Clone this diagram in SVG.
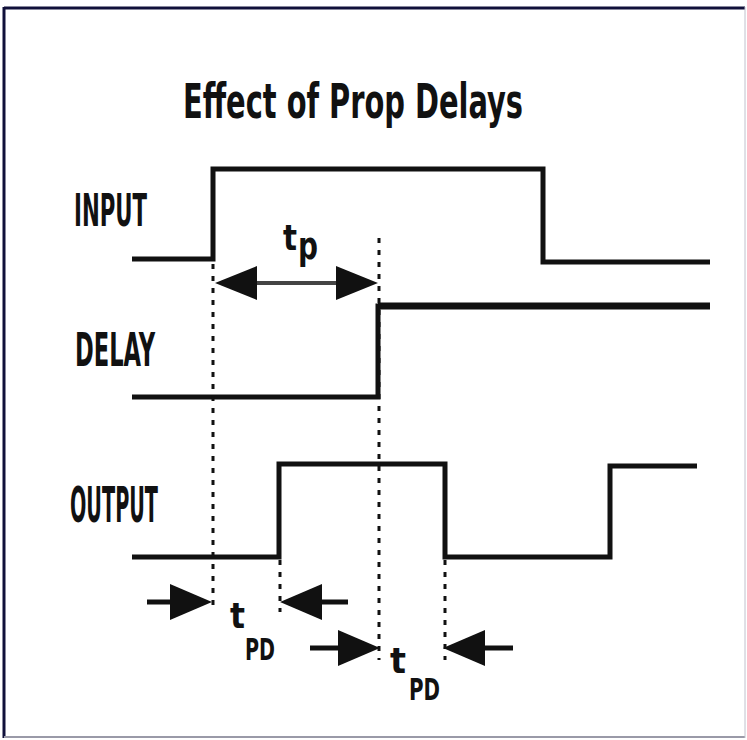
<svg xmlns="http://www.w3.org/2000/svg" width="747" height="740" viewBox="0 0 747 740">
<style>
.lbl{font-family:"DejaVu Sans Condensed","DejaVu Sans",sans-serif;font-weight:bold;fill:#111}
.wave{fill:none;stroke:#111;stroke-width:5;stroke-linejoin:miter}
.dash{stroke:#111;stroke-width:3;stroke-dasharray:5 7;fill:none}
.head{fill:#111}
.shaft{stroke:#111;stroke-width:5}
</style>
<rect x="0" y="0" width="747" height="740" fill="#fff"/>
<line x1="4" y1="8" x2="745" y2="8" stroke="#10103a" stroke-width="3"/>
<line x1="4" y1="7" x2="4" y2="738" stroke="#10103a" stroke-width="3"/>
<line x1="4" y1="737" x2="745" y2="737" stroke="#9a9aa8" stroke-width="2"/>
<line x1="745" y1="7" x2="745" y2="738" stroke="#c0c0cc" stroke-width="1"/>
<g id="title"><text class="lbl" x="183" y="118" font-size="48" textLength="340" lengthAdjust="spacingAndGlyphs">Effect of Prop Delays</text></g>
<g id="input"><text class="lbl" x="74" y="226" font-size="45" textLength="73" lengthAdjust="spacingAndGlyphs">INPUT</text>
<polyline class="wave" points="132,259 213,259 213,169 543,169 543,262 710,262"/></g>
<g id="delay"><text class="lbl" x="75" y="366" font-size="46" textLength="80" lengthAdjust="spacingAndGlyphs">DELAY</text>
<polyline class="wave" points="132,397 378,397 378,306 710,306"/>
<line x1="378" y1="306" x2="710" y2="306" stroke="#111" stroke-width="7"/></g>
<g id="output"><text class="lbl" x="70" y="522" font-size="49" textLength="88" lengthAdjust="spacingAndGlyphs">OUTPUT</text>
<polyline class="wave" points="132,557 279,557 279,464 445,464 445,557 610,557 610,466 697,466"/></g>
<g id="connectors">
<line class="dash" x1="213" y1="264" x2="213" y2="612"/>
<line class="dash" x1="379" y1="238" x2="379" y2="660"/>
<line class="dash" x1="280" y1="560" x2="280" y2="612"/>
<line class="dash" x1="445" y1="560" x2="445" y2="660"/>
<line x1="250" y1="283" x2="340" y2="283" stroke="#444" stroke-width="4"/>
<polygon class="head" points="215,283 257,266 257,300"/>
<polygon class="head" points="378,283 336,266 336,300"/>
<line class="shaft" x1="147" y1="602" x2="180" y2="602"/>
<polygon class="head" points="212,602 170,584 170,620"/>
<line class="shaft" x1="312" y1="602" x2="348" y2="602"/>
<polygon class="head" points="280,602 322,584 322,620"/>
<line class="shaft" x1="310" y1="648" x2="345" y2="648"/>
<polygon class="head" points="380,648 338,630 338,666"/>
<line class="shaft" x1="475" y1="648" x2="513" y2="648"/>
<polygon class="head" points="443,648 485,630 485,666"/>
</g>
<g id="label-tp"><text class="lbl" x="283" y="250" font-size="36" textLength="14" lengthAdjust="spacingAndGlyphs">t</text>
<text class="lbl" x="298" y="259" font-size="38" textLength="20" lengthAdjust="spacingAndGlyphs">p</text></g>
<g id="label-tpd1"><text class="lbl" x="230" y="628" font-size="36" textLength="15" lengthAdjust="spacingAndGlyphs">t</text>
<text class="lbl" x="245" y="660" font-size="31" textLength="30" lengthAdjust="spacingAndGlyphs">PD</text></g>
<g id="label-tpd2"><text class="lbl" x="390" y="673" font-size="36" textLength="16" lengthAdjust="spacingAndGlyphs">t</text>
<text class="lbl" x="409" y="700" font-size="31" textLength="31" lengthAdjust="spacingAndGlyphs">PD</text></g>
</svg>
